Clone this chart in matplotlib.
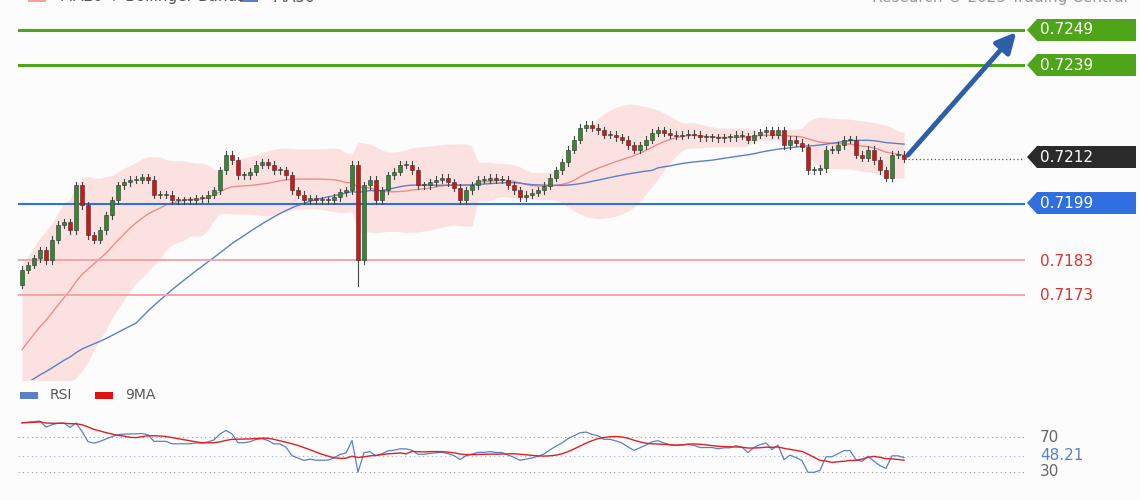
import numpy as np, pandas as pd
import matplotlib
matplotlib.use("Agg")
import matplotlib.pyplot as plt
from matplotlib.patches import Polygon, Rectangle

# closes (pixel-estimated prices)
hist_closes = [0.7120,0.7118,0.7122,0.7125,0.7128,0.7126,0.7130,0.7133,0.7131,0.7135,
               0.7138,0.7136,0.7140,0.7143,0.7147,0.7145,0.7149,0.7152,0.7150,0.7154,
               0.7157,0.7160,0.7158,0.7162,0.7165,0.7163,0.7167,0.7170,0.7172,0.7176]
ypix = [270,265,258,250,260,240,225,222,230,185,205,235,240,230,215,200,185,182,180,180,
        177,180,195,195,195,200,200,200,200,198,198,195,190,170,155,160,175,175,172,165,
        162,165,170,170,175,190,195,200,198,200,200,200,197,192,190,165,260,185,180,200,
        190,175,172,165,165,170,185,185,182,180,178,182,188,200,190,185,180,180,178,180,
        180,185,190,197,195,193,190,186,178,170,162,150,140,128,125,128,130,135,135,137,
        140,145,150,145,140,133,130,133,135,136,135,134,135,137,137,137,138,137,137,135,
        136,140,135,132,130,135,130,145,140,143,147,170,170,168,150,150,145,140,140,155,
        158,150,160,170,178,155,155,159]
closes = [round(0.7249 - (y - 30) * 2.868e-5, 5) for y in ypix]
wick = 0.00010
spike_idx, spike_low = 56, 0.71755
levels_green = [0.7249, 0.7239]
level_blue = 0.7199
levels_red = [0.7183, 0.7173]
last_price = 0.7212
rsi_last = 48.21

allc = pd.Series(hist_closes + closes)
ma20 = allc.rolling(20, min_periods=1).mean()
sd20 = allc.rolling(20, min_periods=1).std().fillna(0)
ma50 = allc.rolling(50, min_periods=1).mean()
H = len(hist_closes)
n = len(closes)
xs = np.arange(n)
opens = [hist_closes[-1]] + closes[:-1]

delta = allc.diff()
up = delta.clip(lower=0).ewm(alpha=1/14).mean()
dn = (-delta.clip(upper=0)).ewm(alpha=1/14).mean()
rsi = (100 - 100/(1+up/dn)).iloc[H:].values
rsi9 = pd.Series(rsi).rolling(9, min_periods=1).mean().values

W, Hh = 1140, 500
fig = plt.figure(figsize=(11.4, 5), dpi=100)
fig.patch.set_facecolor("#fbfcfb")
def fr(x0, y0, x1, y1):
    return [x0/W, 1-y1/Hh, (x1-x0)/W, (y1-y0)/Hh]

ax = fig.add_axes(fr(18, 0, 1025, 380))
ax.set_facecolor("#fbfcfb")
ppx = 2.868e-5
ax.set_ylim(0.7249 - 350*ppx, 0.7249 + 30*ppx)
ax.set_xlim(-4/6, (1025-22)/6)
for s in ax.spines.values(): s.set_visible(False)
ax.set_xticks([]); ax.set_yticks([])

up_b = (ma20 + 2*sd20).iloc[H:].values
lo_b = (ma20 - 2*sd20).iloc[H:].values
ax.fill_between(xs, lo_b, up_b, color="#fbd7d7", alpha=0.7, lw=0, zorder=1)
ax.plot(xs, ma20.iloc[H:].values, color="#f08a8a", lw=1, zorder=2)
ax.plot(xs, ma50.iloc[H:].values, color="#5b80c8", lw=1, zorder=2)

for lv in levels_green:
    ax.axhline(lv, color="#4ea51a", lw=2.2, zorder=3)
ax.axhline(level_blue, color="#2f6fe0", lw=1.5, zorder=3)
for lv in levels_red:
    ax.axhline(lv, color="#f4a0a0", lw=1.3, zorder=3)
ax.axhline(last_price, xmin=(908-18)/1007, color="#555", lw=0.9, ls=(0, (1, 2)), zorder=3)

for i in range(n):
    o, c = opens[i], closes[i]
    hi = max(o, c) + wick
    lo = spike_low if i == spike_idx else min(o, c) - wick
    col = "#2e8b2e" if c >= o else "#e01010"
    ax.plot([i, i], [lo, hi], color="#444", lw=0.8, zorder=4)
    ax.add_patch(Rectangle((i-0.35, min(o, c)), 0.7, max(abs(c-o), 0.00003),
                           facecolor=col, edgecolor="#333", lw=0.4, zorder=5))

ax.annotate("", xy=(1020/6 - 22/6 - 0.3, 0.7249), xytext=(906/6 - 22/6, last_price + 0.00005),
            arrowprops=dict(arrowstyle="-|>,head_length=1.2,head_width=0.6", color="#2d5fa8", lw=3.5),
            zorder=6, annotation_clip=False)

# overlay in pixel coords
ov = fig.add_axes([0, 0, 1, 1]); ov.set_xlim(0, W); ov.set_ylim(Hh, 0); ov.axis("off")
def tag(y, txt, fc, tc="white"):
    ov.add_patch(Polygon([(1027, y), (1037, y-11), (1136, y-11), (1136, y+11), (1037, y+11)],
                         closed=True, fc=fc, ec="none"))
    ov.text(1040, y, txt, color=tc, fontsize=11, va="center", ha="left")
tag(30, "0.7249", "#4ea51a"); tag(65, "0.7239", "#4ea51a")
tag(157, "0.7212", "#2b2b2b"); tag(203, "0.7199", "#2f6fe0")
ov.text(1040, 262, "0.7183", color="#e03030", fontsize=11, va="center")
ov.text(1040, 295, "0.7173", color="#e03030", fontsize=11, va="center")
ov.add_patch(Rectangle((28, -6), 18, 8, fc="#f4a0a0"))
ov.text(60, -3, "MA20 + Bollinger Bands", color="#555", fontsize=11, va="center")
ov.add_patch(Rectangle((240, -6), 18, 8, fc="#5b80c8"))
ov.text(272, -3, "MA50", color="#555", fontsize=11, va="center")
ov.text(1128, -3, "Research © 2023 Trading Central", color="#999", fontsize=11, va="center", ha="right")

ov.add_patch(Rectangle((20, 392), 18, 7, fc="#5b80c8"))
ov.text(50, 395, "RSI", color="#555", fontsize=10, va="center")
ov.add_patch(Rectangle((95, 392), 18, 7, fc="#e01010"))
ov.text(125, 395, "9MA", color="#555", fontsize=10, va="center")
ov.text(1040, 437, "70", color="#666", fontsize=11, va="center")
ov.text(1040, 472, "30", color="#666", fontsize=11, va="center")
ov.text(1040, 455, "48.21", color="#5b80c8", fontsize=11, va="center")

rx = fig.add_axes(fr(18, 400, 1025, 495))
rx.set_facecolor("#fbfcfb")
rx.set_xlim(-4/6, (1025-22)/6)
rx.set_ylim(30 - 23/0.875, 70 + 37/0.875)
for s in rx.spines.values(): s.set_visible(False)
rx.set_xticks([]); rx.set_yticks([])
for lv in (70, 30):
    rx.axhline(lv, color="#999", lw=0.8, ls=(0, (1, 3)))
rx.axhline(rsi_last, color="#9bb0dd", lw=0.8, ls=(0, (1, 3)))
rx.plot(xs, rsi, color="#5b80c8", lw=0.9)
rx.plot(xs, rsi9, color="#e02020", lw=1)

fig.savefig("out.png", dpi=100, facecolor=fig.get_facecolor())
